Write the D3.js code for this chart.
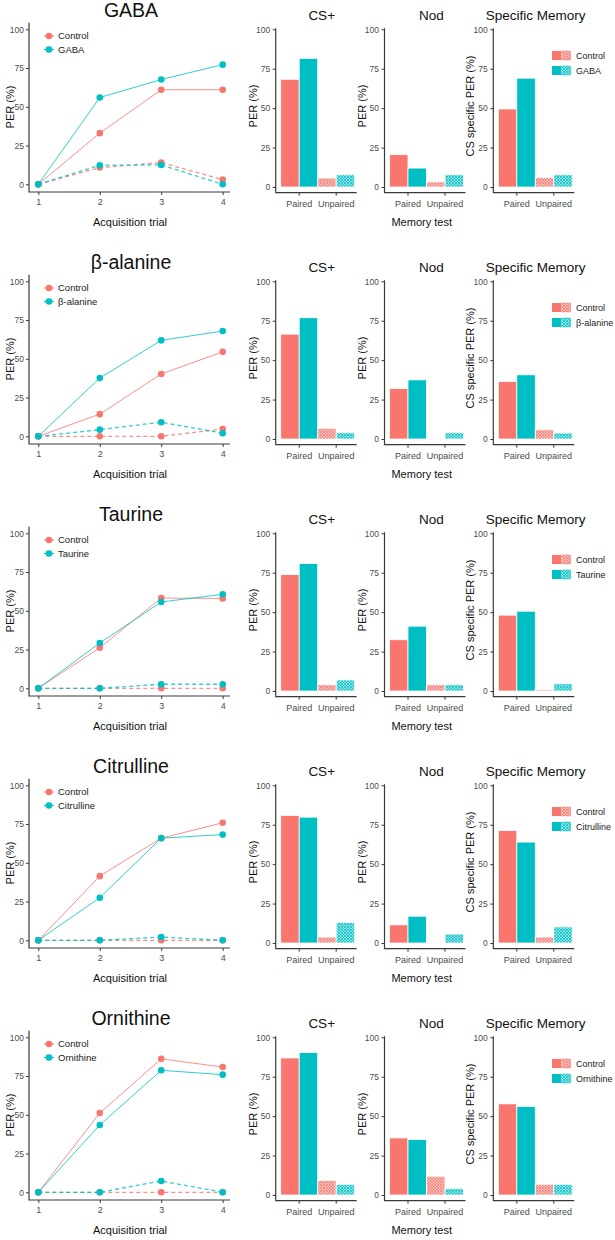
<!DOCTYPE html>
<html><head><meta charset="utf-8">
<script src="https://cdn.jsdelivr.net/npm/d3@7"></script>
<style>
body{margin:0;background:#fff;}
svg{display:block;font-family:"Liberation Sans",Arial,sans-serif;}
</style>
</head><body>
<svg id="c" width="615" height="1240"></svg>
<script>
// ---------------- data ----------------
const treatments = ["GABA", "β-alanine", "Taurine", "Citrulline", "Ornithine"];
const trials = [1, 2, 3, 4];
const yTicks = [0, 25, 50, 75, 100];
const groups = ["Paired", "Unpaired"];
const panelTitles = ["CS+", "Nod", "Specific Memory"];
const panelYLabels = ["PER (%)", "PER (%)", "CS specific PER (%)"];

// acquisition curves (PER %), one row per treatment
const ctrlPairedAcq   = [[0, 33, 61, 61], [0, 14.3, 40.2, 54.5], [0, 26.2, 58.2, 58], [0, 41.4, 65.9, 75.8], [0, 51.1, 86.1, 80.8]];
const trtPairedAcq    = [[0, 56, 67.6, 77.2], [0, 37.6, 61.9, 67.9], [0, 29.2, 55.7, 60.6], [0, 27.5, 65.9, 68.2], [0, 43.4, 78.7, 75.9]];
const ctrlUnpairedAcq = [[0, 10.8, 14, 3], [0, 0, 0, 4.7], [0, 0, 0, 0], [0, 0, 0, 0], [0, 0, 0, 0]];
const trtUnpairedAcq  = [[0, 12.3, 12.5, 0], [0, 4.3, 9.1, 2], [0, 0, 2.6, 2.6], [0, 0, 2.1, 0], [0, 0, 7.3, 0]];

// memory tests: [control paired, treatment paired, control unpaired, treatment unpaired]
const csPlus   = [[68.3, 81.6, 5.7, 7.8], [66.5, 76.9, 6.8, 4.0], [73.8, 80.8, 4.0, 7.0], [80.9, 79.8, 3.8, 13.0], [86.9, 90.3, 9.3, 6.8]];
const nod      = [[20.5, 12.0, 3.2, 7.8], [32.0, 37.5, 0.6, 4.0], [32.5, 41.1, 4.0, 4.0], [11.5, 17.0, 0.6, 5.7], [36.2, 35.2, 11.9, 4.2]];
const specific = [[49.5, 69.0, 6.1, 7.8], [36.4, 40.7, 5.9, 3.8], [48.1, 50.6, 0.8, 4.6], [71.3, 64.0, 3.8, 10.2], [57.8, 56.1, 6.8, 6.8]];

// ---------------- style ----------------
const CTRL = "#F8766D", TRT = "#00BFC4";
const AXIS = "#3a3a3a", TICKTXT = "#4d4d4d";
const ROW_H = 252;

const svg = d3.select("#c");
const defs = svg.append("defs");
function makePattern(id, color) {
  const p = defs.append("pattern").attr("id", id)
    .attr("patternUnits", "userSpaceOnUse").attr("width", 3).attr("height", 3);
  p.append("rect").attr("width", 3).attr("height", 3).attr("fill", "#fff");
  p.append("rect").attr("width", 3).attr("height", 3).attr("fill", color).attr("opacity", 0.45);
  p.append("path").attr("d", "M0,0L3,3M3,0L0,3").attr("stroke", color).attr("stroke-width", 0.7);
}
makePattern("hatchCtrl", CTRL);
makePattern("hatchTrt", TRT);

function styleAxis(g, fs) {
  g.select(".domain").remove();
  g.selectAll(".tick line").attr("stroke", AXIS).attr("stroke-width", 1);
  g.selectAll(".tick text").attr("fill", TICKTXT).style("font-size", fs + "px")
    .style("font-family", '"Liberation Sans",Arial,sans-serif');
}

treatments.forEach((trt, k) => {
  const R = k * ROW_H;
  const row = svg.append("g");

  // row title
  row.append("text").attr("x", 131).attr("y", R + 17).attr("text-anchor", "middle")
    .style("font-size", "19.5px").attr("fill", "#111").text(trt);

  // ---------- acquisition line chart ----------
  const x = d3.scaleLinear().domain([1, 4]).range([38.3, 222.7]);
  const y = d3.scaleLinear().domain([0, 100]).range([R + 184.3, R + 29.3]);

  row.append("g").attr("transform", "translate(29,0)")
    .call(d3.axisLeft(y).tickValues(yTicks).tickSize(3).tickPadding(2))
    .call(g => styleAxis(g, 8.5));
  row.append("g").attr("transform", `translate(0,${R + 192})`)
    .call(d3.axisBottom(x).tickValues(trials).tickFormat(d3.format("d")).tickSize(3).tickPadding(4))
    .call(g => styleAxis(g, 9));
  row.append("path").attr("d", `M29,${R + 22.7}V${R + 192}H230`)
    .attr("fill", "none").attr("stroke", AXIS).attr("stroke-width", 1.2);

  row.append("text").attr("transform", `translate(13.5,${R + 107}) rotate(-90)`)
    .attr("text-anchor", "middle").style("font-size", "11px").attr("fill", "#111").text("PER (%)");
  row.append("text").attr("x", 130).attr("y", R + 225.5).attr("text-anchor", "middle")
    .style("font-size", "11px").attr("fill", "#111").text("Acquisition trial");

  const line = d3.line().x(d => x(d.t)).y(d => y(d.v));
  const series = [
    { vals: ctrlUnpairedAcq[k], color: CTRL, dash: "4,3", w: 1.3 },
    { vals: trtUnpairedAcq[k], color: TRT, dash: "4,3", w: 1.3 },
    { vals: ctrlPairedAcq[k], color: CTRL, dash: null, w: 1 },
    { vals: trtPairedAcq[k], color: TRT, dash: null, w: 1 }
  ];
  series.forEach(s => {
    const pts = trials.map((t, i) => ({ t, v: s.vals[i] }));
    row.append("path").datum(pts).attr("d", line).attr("fill", "none")
      .attr("stroke", s.color).attr("stroke-opacity", 0.8).attr("stroke-width", s.w)
      .attr("stroke-dasharray", s.dash);
    row.selectAll(null).data(pts).enter().append("circle")
      .attr("cx", d => x(d.t)).attr("cy", d => y(d.v)).attr("r", 3.3).attr("fill", s.color);
  });

  // legend (line chart)
  [["Control", CTRL], [trt, TRT]].forEach(([lab, col], i) => {
    const ly = R + 36 + i * 13.5;
    row.append("line").attr("x1", 44).attr("x2", 54).attr("y1", ly).attr("y2", ly)
      .attr("stroke", col).attr("stroke-width", 1);
    row.append("circle").attr("cx", 49).attr("cy", ly).attr("r", 3.3).attr("fill", col);
    row.append("text").attr("x", 58).attr("y", ly + 3.3).style("font-size", "9.5px")
      .attr("fill", "#222").text(lab);
  });

  // ---------- bar panels ----------
  const panelData = [csPlus[k], nod[k], specific[k]];
  const titleOffset = [46, 47, 42.4];
  panelData.forEach((vals, p) => {
    const ax = 275.7 + p * 108.8;
    const yb = d3.scaleLinear().domain([0, 100]).range([R + 187, R + 29.3]);
    const x0 = d3.scaleBand().domain(groups).range([ax + 5, ax + 79]).padding(0);
    const x1 = d3.scaleBand().domain(["Control", trt]).range([0, x0.bandwidth()]).padding(0);
    const bars = [
      { g: "Paired", s: "Control", v: vals[0], fill: CTRL },
      { g: "Paired", s: trt, v: vals[1], fill: TRT },
      { g: "Unpaired", s: "Control", v: vals[2], fill: "url(#hatchCtrl)" },
      { g: "Unpaired", s: trt, v: vals[3], fill: "url(#hatchTrt)" }
    ];
    row.selectAll(null).data(bars).enter().append("rect")
      .attr("x", d => x0(d.g) + x1(d.s)).attr("width", x1.bandwidth())
      .attr("y", d => yb(d.v)).attr("height", d => yb(0) - yb(d.v))
      .attr("fill", d => d.fill).attr("stroke", "#fff").attr("stroke-width", 0.8);

    row.append("g").attr("transform", `translate(${ax},0)`)
      .call(d3.axisLeft(yb).tickValues(yTicks).tickSize(3).tickPadding(2.5))
      .call(g => styleAxis(g, 8.5));
    row.append("g").attr("transform", `translate(0,${R + 192.7})`)
      .call(d3.axisBottom(x0).tickSize(3).tickPadding(5))
      .call(g => styleAxis(g, 9));
    row.append("path").attr("d", `M${ax},${R + 28.3}V${R + 192.7}H${ax + 81}`)
      .attr("fill", "none").attr("stroke", AXIS).attr("stroke-width", 1.2);

    row.append("text").attr("x", ax + titleOffset[p]).attr("y", R + 19.5)
      .attr("text-anchor", "middle").style("font-size", "13.5px").attr("fill", "#111")
      .text(panelTitles[p]);
    row.append("text").attr("transform", `translate(${ax - 19},${R + 106}) rotate(-90)`)
      .attr("text-anchor", "middle").style("font-size", "11px").attr("fill", "#111")
      .text(panelYLabels[p]);

    if (p === 2) {
      [["Control", CTRL, "url(#hatchCtrl)"], [trt, TRT, "url(#hatchTrt)"]].forEach(([lab, col, hatch], i) => {
        const ly = R + 51 + i * 15;
        row.append("rect").attr("x", ax + 58.7).attr("y", ly).attr("width", 9).attr("height", 9).attr("fill", col);
        row.append("rect").attr("x", ax + 68.4).attr("y", ly).attr("width", 9).attr("height", 9)
          .attr("fill", hatch).attr("stroke", col).attr("stroke-width", 0.4);
        row.append("text").attr("x", ax + 82.7).attr("y", ly + 8).style("font-size", "9px")
          .attr("fill", "#222").text(lab);
      });
    }
  });

  row.append("text").attr("x", 421.7).attr("y", R + 225.5).attr("text-anchor", "middle")
    .style("font-size", "11px").attr("fill", "#111").text("Memory test");
});
</script>
</body></html>
